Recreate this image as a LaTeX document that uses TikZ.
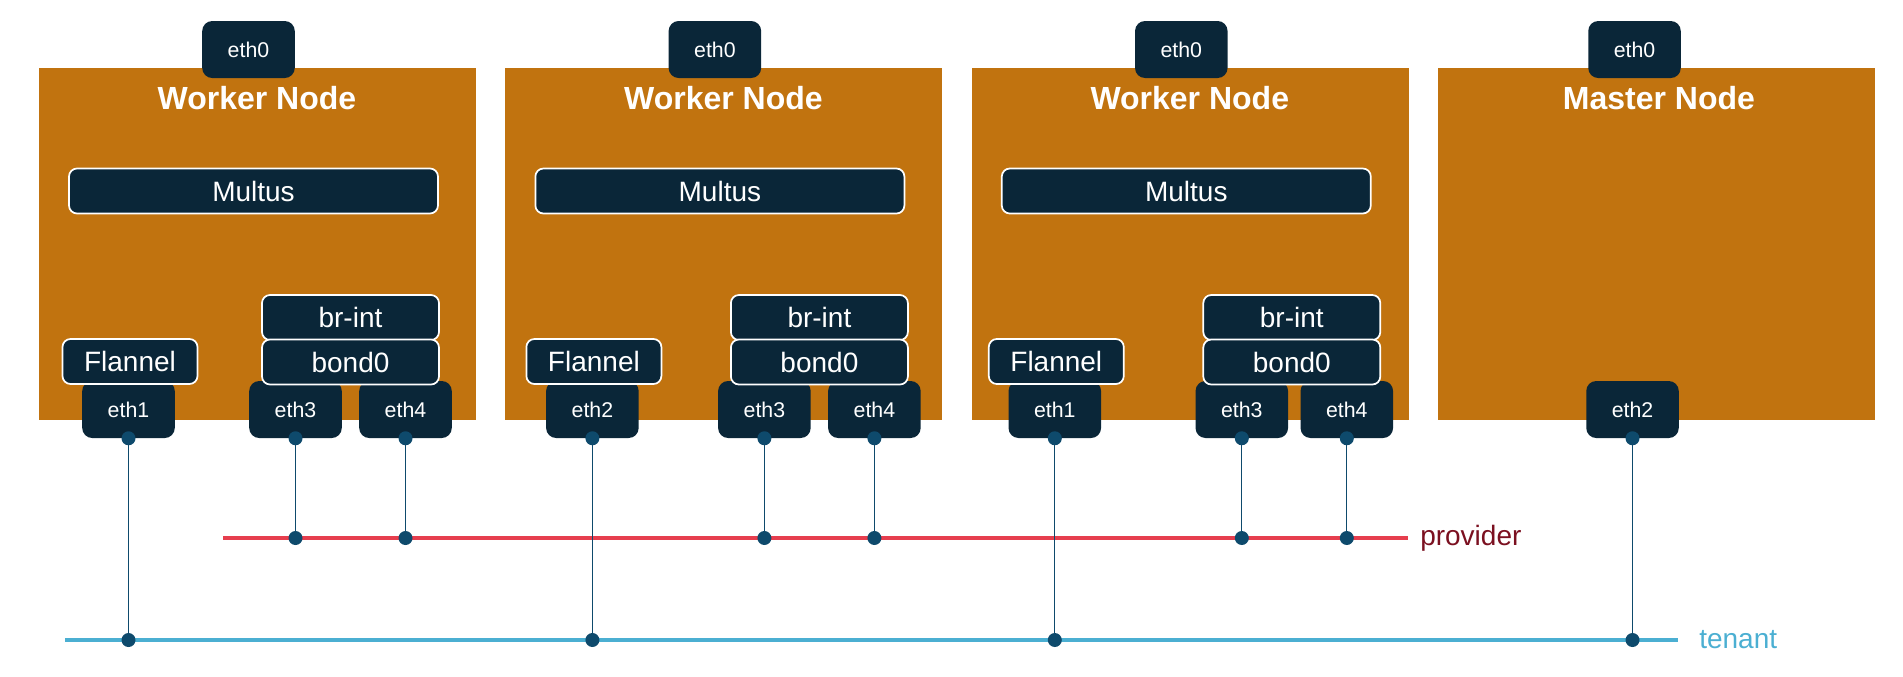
\documentclass[tikz,border=0pt]{standalone}
\usepackage{fontspec}
\setmainfont{Liberation Sans}
\usetikzlibrary{positioning}
\definecolor{nodeorange}{HTML}{C1730F}
\definecolor{darkbox}{HTML}{0A2638}
\definecolor{provred}{HTML}{E63E4E}
\definecolor{provtext}{HTML}{7B1020}
\definecolor{tenblue}{HTML}{4BAFD2}
\definecolor{dotblue}{HTML}{0E4A6C}

\begin{document}
\begin{tikzpicture}[x=0.75pt,y=-0.75pt]
\tikzstyle{every node}=[font=\fontsize{16pt}{19pt}\selectfont, text=white]
\tikzstyle{eth}=[fill=darkbox, rounded corners=7.5pt, minimum width=69.4pt, minimum height=42.75pt, inner sep=0]
\tikzstyle{comp}=[fill=darkbox, draw=white, line width=1.3pt, rounded corners=6pt, minimum height=33.75pt, inner sep=0, font=\fontsize{21pt}{25pt}\selectfont]
\tikzstyle{title}=[font=\bfseries\fontsize{24pt}{28pt}\selectfont]
\tikzstyle{bus}=[line width=3pt]
\tikzstyle{tap}=[draw=dotblue, line width=0.9pt]
\tikzstyle{dot}=[circle, fill=dotblue, inner sep=0, minimum size=10.5pt]
\tikzstyle{buslabel}=[anchor=west, inner sep=0, font=\fontsize{21pt}{25pt}\selectfont]

\useasboundingbox (0,0) rectangle (1903,676);

% Worker nodes: index / flannel port / port offsets / bridge offset
\foreach \i/\fl/\pf/\pa/\pb/\br in {1/1/89.5/256.5/366.5/311.5, 2/2/87/259/369/314, 3/1/83/270/375/320}{
  \pgfmathsetmacro{\o}{39+466.4*(\i-1)}
  \fill[nodeorange] (\o,68) rectangle ++(437,352);
  \node[eth] (eth0\i) at (\o+209.5,49.5) {eth0};
  \node[eth] (ethf\i) at (\o+\pf,409.5) {eth\fl};
  \node[eth] (eth3\i) at (\o+\pa,409.5) {eth3};
  \node[eth] (eth4\i) at (\o+\pb,409.5) {eth4};
  \node[title] (title\i) at (\o+218,98) {Worker Node};
  \node[comp, minimum width=276.75pt] (multus\i) at (\o+214.5,191) {Multus};
  \node[comp, minimum width=132.75pt] (brint\i) at (\o+\br,317.5) {br-int};
  \node[comp, minimum width=132.75pt] (bond\i) at (\o+\br,362) {bond0};
  \node[comp, minimum width=101.25pt] (flannel\i) at (\o+\pf+1.5,361.5) {Flannel};
}

% Master node
\fill[nodeorange] (1438.2,68) rectangle ++(437,352);
\node[eth] (eth0m) at (1634.5,49.5) {eth0};
\node[eth] (eth2m) at (1632.5,409.5) {eth2};
\node[title] (titlem) at (1659,98) {Master Node};

% Networks
\coordinate (provW) at (223,538);
\coordinate (provE) at (1408,538);
\coordinate (tenW) at (65,640);
\coordinate (tenE) at (1678,640);
\draw[bus, provred] (provW) -- (provE);
\draw[bus, tenblue] (tenW) -- (tenE);
\node[buslabel, text=provtext] (provider) at ([xshift=9pt]provE) {provider};
\node[buslabel, text=tenblue] (tenant) at ([xshift=15.75pt]tenE) {tenant};

% Connect the ports to the networks
\foreach \i in {1,2,3}
  \foreach \p/\b in {f/tenW,3/provW,4/provW}{
    \draw[tap] (eth\p\i.south) -- (eth\p\i.south |- \b);
    \node[dot] (top\p\i) at (eth\p\i.south) {};
    \node[dot] (bot\p\i) at (eth\p\i.south |- \b) {};
  }
\draw[tap] (eth2m.south) -- (eth2m.south |- tenW);
\node[dot] (top2m) at (eth2m.south) {};
\node[dot] (bot2m) at (eth2m.south |- tenW) {};
\end{tikzpicture}
\end{document}
